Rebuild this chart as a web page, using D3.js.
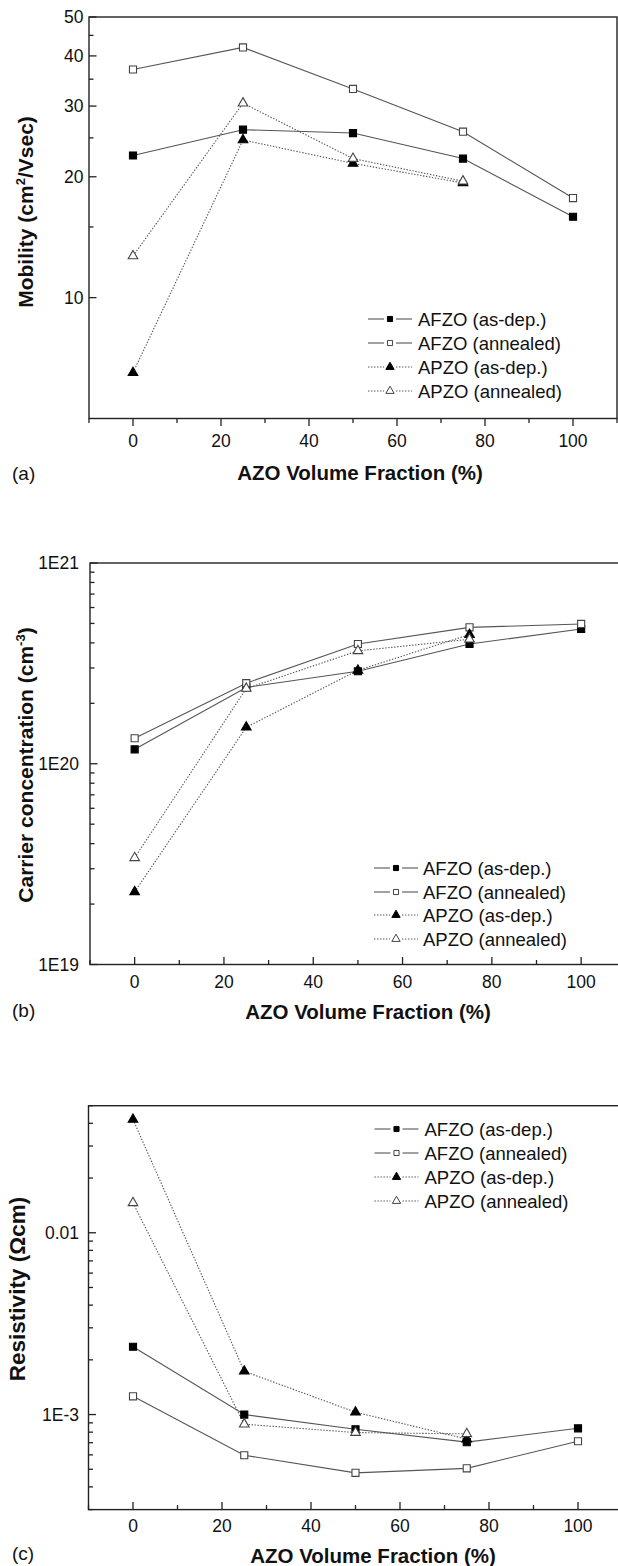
<!DOCTYPE html>
<html>
<head>
<meta charset="utf-8">
<script src="https://cdn.jsdelivr.net/npm/d3@7"></script>
<style>
  body { margin: 0; background: #fff; }
  svg text { font-family: "Liberation Sans", Arial, Helvetica, sans-serif; fill: #111; }
</style>
</head>
<body>
<div id="vis-holder"></div>
<script>
// page size
const W = 618, H = 1566;

// x values shared by the three plots (AZO volume fraction, %)
const fractions = [0, 25, 50, 75, 100];
const seriesNames = ["AFZO (as-dep.)", "AFZO (annealed)", "APZO (as-dep.)", "APZO (annealed)"];

// (a) mobility (cm2/Vsec)
const mobAfzoDep = [22.6, 26.2, 25.7, 22.2, 15.9];
const mobAfzoAnn = [37.0, 42.0, 33.1, 25.9, 17.7];
const mobApzoDep = [6.5, 24.7, 21.6, 19.3];
const mobApzoAnn = [12.7, 30.5, 22.2, 19.5];

// (b) carrier concentration (cm-3)
const carAfzoDep = [1.18e20, 2.40e20, 2.89e20, 3.95e20, 4.69e20];
const carAfzoAnn = [1.34e20, 2.52e20, 3.95e20, 4.78e20, 4.97e20];
const carApzoDep = [2.3e19, 1.52e20, 2.92e20, 4.40e20];
const carApzoAnn = [3.4e19, 2.37e20, 3.65e20, 4.17e20];

// (c) resistivity (ohm cm)
const resAfzoDep = [2.36e-3, 1.0e-3, 8.3e-4, 7.05e-4, 8.4e-4];
const resAfzoAnn = [1.26e-3, 5.97e-4, 4.78e-4, 5.06e-4, 7.13e-4];
const resApzoDep = [0.042, 1.73e-3, 1.03e-3, 7.33e-4];
const resApzoAnn = [0.0146, 8.85e-4, 7.96e-4, 7.83e-4];

// ticks
const xTicks = [0, 20, 40, 60, 80, 100];
const xMinor = [-10, 10, 30, 50, 70, 90, 110];
const mobTicks = [10, 20, 30, 40, 50];
const mobMinor = [15, 25, 35, 45];
const carTicks = [1e19, 1e20, 1e21];
const carTickLabels = ["1E19", "1E20", "1E21"];
const resTicks = [1e-3, 1e-2];
const resTickLabels = ["1E-3", "0.01"];

const svg = d3.select("#vis-holder")
  .append("svg")
  .attr("width", W)
  .attr("height", H)
  .attr("viewBox", [0, 0, W, H]);

// marker look per series: filled square, open square, filled triangle, open triangle
const seriesStyle = [
  { shape: d3.symbolSquare, fill: "#000", stroke: "#000", dash: null },
  { shape: d3.symbolSquare, fill: "#fff", stroke: "#444", dash: null },
  { shape: d3.symbolTriangle, fill: "#000", stroke: "#000", dash: "1.4,1.6" },
  { shape: d3.symbolTriangle, fill: "#fff", stroke: "#444", dash: "1.4,1.6" }
];

function drawPanel(p) {
  const g = svg.append("g");

  const x = d3.scaleLinear().domain([-10, 110]).range([p.left, p.right]);
  const y = d3.scaleLog().domain(p.yDomain).range([p.bottom, p.top]);

  // frame
  g.append("rect")
    .attr("x", p.left).attr("y", p.top)
    .attr("width", p.right - p.left).attr("height", p.bottom - p.top)
    .attr("fill", "none").attr("stroke", "#222").attr("stroke-width", 1.4);

  // x ticks (outward for (a), inward for (b),(c))
  const dir = p.xTicksOut ? 1 : -1;
  g.selectAll(".xmaj").data(xTicks).enter().append("line")
    .attr("x1", d => x(d)).attr("x2", d => x(d))
    .attr("y1", p.bottom).attr("y2", p.bottom + dir * 7.5)
    .attr("stroke", "#222").attr("stroke-width", 1.3);
  g.selectAll(".xmin").data(xMinor).enter().append("line")
    .attr("x1", d => x(d)).attr("x2", d => x(d))
    .attr("y1", p.bottom).attr("y2", p.bottom + dir * 4.5)
    .attr("stroke", "#222").attr("stroke-width", 1.3);
  g.selectAll(".xlab").data(xTicks).enter().append("text")
    .attr("x", d => x(d)).attr("y", p.xLabelY)
    .attr("text-anchor", "middle").attr("font-size", 17.5)
    .text(d => d);

  // y ticks, pointing into the plot
  g.selectAll(".ymaj").data(p.yTicks).enter().append("line")
    .attr("x1", p.left).attr("x2", p.left + 7.5)
    .attr("y1", d => y(d)).attr("y2", d => y(d))
    .attr("stroke", "#222").attr("stroke-width", 1.3);
  g.selectAll(".ymin").data(p.yMinor).enter().append("line")
    .attr("x1", p.left).attr("x2", p.left + 4.5)
    .attr("y1", d => y(d)).attr("y2", d => y(d))
    .attr("stroke", "#222").attr("stroke-width", 1.3);
  g.selectAll(".ylab").data(p.yTicks).enter().append("text")
    .attr("x", p.yLabelX).attr("y", d => y(d))
    .attr("dy", "0.36em")
    .attr("text-anchor", "end").attr("font-size", 17.5)
    .text((d, i) => p.yTickLabels[i]);

  // x title and panel letter
  g.append("text")
    .attr("x", p.xTitleX).attr("y", p.xTitleY)
    .attr("text-anchor", "middle").attr("font-size", 20.5).attr("font-weight", "bold")
    .text("AZO Volume Fraction (%)");
  g.append("text")
    .attr("x", 12).attr("y", p.letterY)
    .attr("font-size", 19)
    .text(p.letter);

  // y title (rotated)
  const yt = g.append("text")
    .attr("transform", `translate(${p.yTitleX},${p.yTitleY}) rotate(-90)`)
    .attr("text-anchor", "middle").attr("font-size", p.yTitleSize).attr("font-weight", "bold");
  p.yTitle.forEach(part => {
    const t = yt.append("tspan").text(part.t);
    if (part.sup) t.attr("font-size", 13).attr("dy", -8);
    if (part.after) t.attr("dy", 8);
  });

  // lines and markers
  const line = d3.line().x(d => x(d[0])).y(d => y(d[1]));
  p.series.forEach((vals, i) => {
    const pts = vals.map((v, j) => [fractions[j], v]);
    const st = seriesStyle[i];
    g.append("path")
      .datum(pts)
      .attr("d", line)
      .attr("fill", "none")
      .attr("stroke", "#555")
      .attr("stroke-width", 1.1)
      .attr("stroke-dasharray", st.dash);
  });
  p.series.forEach((vals, i) => {
    const pts = vals.map((v, j) => [fractions[j], v]);
    const st = seriesStyle[i];
    const sym = d3.symbol().type(st.shape).size(st.shape === d3.symbolSquare ? 50 : 40);
    g.selectAll(null).data(pts).enter().append("path")
      .attr("d", sym)
      .attr("transform", d => `translate(${x(d[0])},${y(d[1])})`)
      .attr("fill", st.fill)
      .attr("stroke", st.stroke)
      .attr("stroke-width", 1.1);
  });

  // legend
  seriesNames.forEach((name, i) => {
    const st = seriesStyle[i];
    const ly = p.legendRows[i];
    const mx = (p.legendX0 + p.legendX1) / 2;
    g.append("line")
      .attr("x1", p.legendX0).attr("x2", mx - 6)
      .attr("y1", ly).attr("y2", ly)
      .attr("stroke", "#555").attr("stroke-width", 1.1)
      .attr("stroke-dasharray", st.dash);
    g.append("line")
      .attr("x1", mx + 6).attr("x2", p.legendX1)
      .attr("y1", ly).attr("y2", ly)
      .attr("stroke", "#555").attr("stroke-width", 1.1)
      .attr("stroke-dasharray", st.dash);
    const sym = d3.symbol().type(st.shape).size(st.shape === d3.symbolSquare ? 26 : 30);
    g.append("path")
      .attr("d", sym)
      .attr("transform", `translate(${mx},${ly})`)
      .attr("fill", st.fill).attr("stroke", st.stroke).attr("stroke-width", 1);
    g.append("text")
      .attr("x", p.legendText).attr("y", ly)
      .attr("dy", "0.36em")
      .attr("font-size", 18.5)
      .text(name);
  });
}

function logMinor(domain, majors) {
  return d3.scaleLog().domain(domain).ticks()
    .filter(v => !majors.some(m => Math.abs(v - m) / m < 1e-6));
}

// (a) Mobility
drawPanel({
  left: 89, right: 617, top: 17, bottom: 418.5,
  yDomain: [5, 50],
  yTicks: mobTicks, yTickLabels: mobTicks.map(String), yMinor: mobMinor,
  yLabelX: 83.5, xLabelY: 447, xTicksOut: true,
  xTitleX: 360, xTitleY: 480, letter: "(a)", letterY: 480,
  yTitleX: 33, yTitleY: 212, yTitleSize: 21,
  yTitle: [{ t: "Mobility (cm" }, { t: "2", sup: true }, { t: "/Vsec)", after: true }],
  series: [mobAfzoDep, mobAfzoAnn, mobApzoDep, mobApzoAnn],
  legendRows: [319, 343, 367, 391], legendX0: 368, legendX1: 412, legendText: 418
});

// (b) Carrier concentration
drawPanel({
  left: 90, right: 625.8, top: 563, bottom: 964.5,
  yDomain: [1e19, 1e21],
  yTicks: carTicks, yTickLabels: carTickLabels, yMinor: logMinor([1e19, 1e21], carTicks),
  yLabelX: 79, xLabelY: 987.5, xTicksOut: false,
  xTitleX: 368, xTitleY: 1019, letter: "(b)", letterY: 1017,
  yTitleX: 33, yTitleY: 765, yTitleSize: 21,
  yTitle: [{ t: "Carrier concentration (cm" }, { t: "-3", sup: true }, { t: ")", after: true }],
  series: [carAfzoDep, carAfzoAnn, carApzoDep, carApzoAnn],
  legendRows: [868, 892, 915, 939], legendX0: 374, legendX1: 418, legendText: 423
});

// (c) Resistivity
drawPanel({
  left: 88.5, right: 622.5, top: 1105.7, bottom: 1509.6,
  yDomain: [3e-4, 0.05],
  yTicks: resTicks, yTickLabels: resTickLabels, yMinor: logMinor([3e-4, 0.05], resTicks),
  yLabelX: 79, xLabelY: 1531.5, xTicksOut: false,
  xTitleX: 373, xTitleY: 1563, letter: "(c)", letterY: 1560,
  yTitleX: 24.5, yTitleY: 1289, yTitleSize: 22.5,
  yTitle: [{ t: "Resistivity (\u03A9cm)" }],
  series: [resAfzoDep, resAfzoAnn, resApzoDep, resApzoAnn],
  legendRows: [1129, 1153, 1177, 1201], legendX0: 374.5, legendX1: 418.5, legendText: 424.5
});
</script>
</body>
</html>
